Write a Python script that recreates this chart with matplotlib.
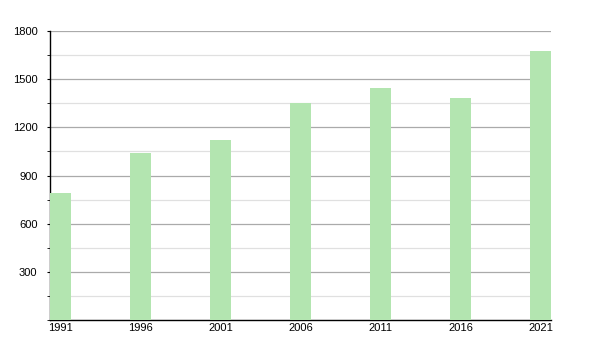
import numpy as np
import matplotlib.pyplot as plt
from matplotlib.ticker import MultipleLocator

plt.rcParams["font.family"] = ["Liberation Sans", "DejaVu Sans"]

YEARS = ["1991", "1996", "2001", "2006", "2011", "2016", "2021"]
POPULATION = [790, 1040, 1121, 1351, 1445, 1381, 1675]

BAR_COLOR = "#b3e5b0"
BAR_WIDTH = 0.2625

fig = plt.figure(figsize=(6, 3.5), dpi=100)
ax = fig.add_axes([50 / 600, 30 / 350, 501 / 600, 289 / 350])

x = np.arange(len(YEARS))
ax.bar(x, POPULATION, width=BAR_WIDTH, align="edge", color=BAR_COLOR, zorder=3)

ax.set_xlim(0, len(YEARS) - 1 + BAR_WIDTH)
ax.set_ylim(0, 1800)
ax.set_xticks(x + BAR_WIDTH / 2)
ax.set_xticklabels(YEARS, fontsize=8)
ax.tick_params(axis="x", length=0, pad=2)

ax.yaxis.set_major_locator(MultipleLocator(300))
ax.yaxis.set_minor_locator(MultipleLocator(150))
ax.set_yticks([300, 600, 900, 1200, 1500, 1800])
ax.tick_params(axis="y", which="major", length=2, labelsize=8, pad=7)
ax.tick_params(axis="y", which="minor", length=2)
ax.grid(axis="y", which="major", color="#aaaaaa", linewidth=0.9, zorder=0)
ax.grid(axis="y", which="minor", color="#e0e0e0", linewidth=0.9, zorder=0)
ax.set_axisbelow(True)

for side in ("top", "right"):
    ax.spines[side].set_visible(False)
ax.spines["left"].set_linewidth(1.0)
ax.spines["bottom"].set_linewidth(1.0)

fig.savefig("out.png", dpi=100)
